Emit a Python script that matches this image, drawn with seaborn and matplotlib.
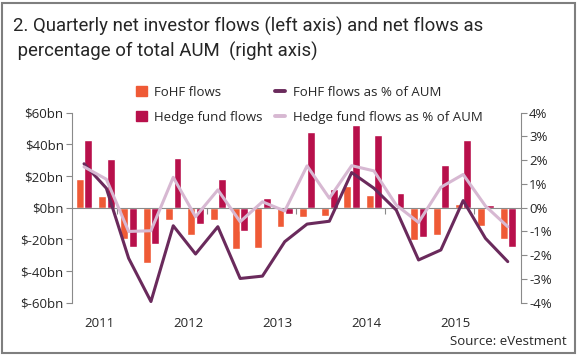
import numpy as np
import pandas as pd
import seaborn as sns
import matplotlib.pyplot as plt
from matplotlib.patches import Patch, Rectangle
from matplotlib.lines import Line2D

# quarterly data, 2011Q1 .. 2015Q4
quarters = [f'{y}Q{q}' for y in range(2011, 2016) for q in range(1, 5)]
years = ['2011', '2012', '2013', '2014', '2015']

fohf_flows = [18, 7.5, -20, -35, -7.5, -17.5, -7.5, -26, -25.5, -12.5,
              -6, -5.5, 13.5, 8, -1, -20.5, -17, 2.5, -11.5, -20]
hf_flows = [43, 31, -25, -23, 31.5, -10, 18, -14.5, 6, -4,
            47.5, 12, 52, 46, 9, -18.5, 27, 43, 1.5, -25]
fohf_pct = [1.85, 0.82, -2.13, -3.95, -0.76, -1.95, -0.8, -2.98, -2.88, -1.43,
            -0.69, -0.57, 1.48, 0.82, -0.1, -2.2, -1.78, 0.3, -1.29, -2.27]
hf_pct = [1.72, 1.2, -1.0, -0.97, 1.28, -0.38, 0.75, -0.59, 0.25, -0.14,
          1.76, 0.4, 1.77, 1.55, 0.11, -0.62, 0.86, 1.4, 0.07, -0.8]

bar_names = ['FoHF flows', 'Hedge fund flows']
line_names = ['FoHF flows as % of AUM', 'Hedge fund flows as % of AUM']
bar_colors = ['#EF5A36', '#B8104B']
line_colors = ['#6A2A5C', '#D7B8D2']
grey = '#8a8a8a'

sns.set_style('ticks')
plt.rcParams['font.family'] = ['Open Sans', 'DejaVu Sans']
fs = 9.5

df_bars = pd.DataFrame({
    'quarter': quarters * 2,
    'flow': fohf_flows + hf_flows,
    'series': [bar_names[0]] * len(quarters) + [bar_names[1]] * len(quarters),
})
df_lines = pd.DataFrame({
    'pos': list(range(len(quarters))) * 2,
    'pct': fohf_pct + hf_pct,
    'series': [line_names[0]] * len(quarters) + [line_names[1]] * len(quarters),
})

fig = plt.figure(figsize=(5.8, 3.58), dpi=100)
ax = fig.add_axes([72 / 580, 1 - 302.7 / 358, (520.7 - 72) / 580, (302.7 - 112.7) / 358])

sns.barplot(data=df_bars, x='quarter', y='flow', hue='series', hue_order=bar_names,
            palette=bar_colors, width=0.76, gap=0.06, saturation=1,
            legend=False, ax=ax)

ax2 = ax.twinx()
sns.lineplot(data=df_lines, x='pos', y='pct', hue='series', hue_order=line_names,
             palette=line_colors, linewidth=2.2, legend=False, ax=ax2)

ax.set_xlim(-0.54, 19.58)
ax.set_ylim(-60, 60)
ax2.set_ylim(-4, 4)

# left axis
yt = list(range(-60, 61, 20))
ax.set_yticks(yt)
ax.set_yticklabels([f'${v}bn' for v in yt])
ax.set_ylabel('')
ax.set_xlabel('')
ax.tick_params(axis='y', length=4, color=grey, labelsize=fs, pad=2)

# right axis
pt = list(range(-4, 5))
ax2.set_yticks(pt)
ax2.set_yticklabels([f'{v}%' for v in pt])
ax2.set_ylabel('')
ax2.set_xlabel('')
ax2.tick_params(axis='y', length=4, color=grey, labelsize=fs, pad=2)

for s in ['top', 'right']:
    ax.spines[s].set_visible(False)
ax.spines['left'].set_color(grey)
ax.spines['bottom'].set_position(('data', 0))
ax.spines['bottom'].set_color(grey)
for s in ['top', 'left', 'bottom']:
    ax2.spines[s].set_visible(False)
ax2.spines['right'].set_color(grey)

# year boundary ticks on the zero line
ax.set_xticks([1.5 + 4 * k for k in range(5)])
ax.set_xticklabels([])
ax.tick_params(axis='x', length=4, color=grey, direction='out')

# year labels below the plot
sec = ax.secondary_xaxis('bottom')
sec.set_xticks([0.67 + 4 * k for k in range(5)])
sec.set_xticklabels(years)
sec.tick_params(axis='x', length=0, labelsize=fs, pad=10)
sec.spines['bottom'].set_visible(False)

# legend
handles = [Patch(color=bar_colors[0]), Patch(color=bar_colors[1]),
           Line2D([], [], color=line_colors[0], lw=2.8),
           Line2D([], [], color=line_colors[1], lw=2.8)]
labels = bar_names + line_names
fig.legend(handles, labels, loc='upper left', bbox_to_anchor=(136 / 580, 1 - 86 / 358),
           ncol=2, frameon=False, fontsize=fs, borderpad=0, borderaxespad=0,
           handlelength=0.8, handleheight=0.8, handletextpad=0.6,
           columnspacing=0.9, labelspacing=0.9)

# title: condensed face in the original, so shrink to the same line width
title_lines = ['2. Quarterly net investor flows (left axis) and net flows as',
               ' percentage of total AUM  (right axis)']
title_fam = ['Roboto', 'DejaVu Sans']
t1 = fig.text(13 / 580, 1 - 32 / 358, title_lines[0], ha='left', va='baseline',
              fontsize=15, family=title_fam)
t2 = fig.text(13 / 580, 1 - 57 / 358, title_lines[1], ha='left', va='baseline',
              fontsize=15, family=title_fam)
r = fig.canvas.get_renderer()
w = t1.get_window_extent(renderer=r).width
if w > 470:
    t1.set_fontsize(15 * 470 / w)
    t2.set_fontsize(15 * 470 / w)

fig.text(567 / 580, 1 - 345 / 358, 'Source: eVestment', ha='right', va='baseline',
         fontsize=fs)
fig.patches.append(Rectangle((2 / 580, 5 / 358), 573 / 580, 350 / 358, fill=False,
                             edgecolor='#7f7f7f', lw=1.5, transform=fig.transFigure))

fig.savefig('out.png', dpi=100)
